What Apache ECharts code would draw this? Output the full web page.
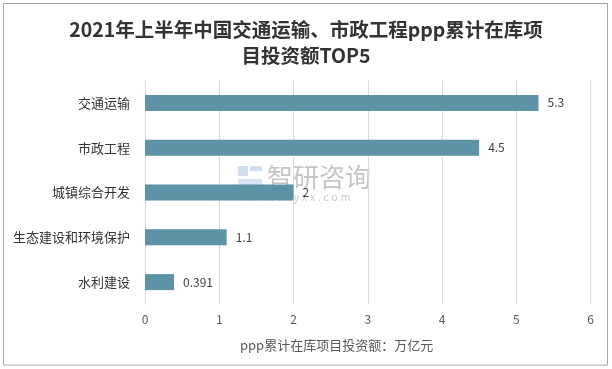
<!DOCTYPE html>
<html><head><meta charset="utf-8">
<script src="https://cdn.jsdelivr.net/npm/echarts@6/dist/echarts.min.js"></script>
<style>html,body{margin:0;padding:0;background:#fff}#c{width:612px;height:369px}</style>
</head><body><div id="c"></div>
<script>
var titleLines = ['2021年上半年中国交通运输、市政工程ppp累计在库项', '目投资额TOP5'];
var categories = ['交通运输', '市政工程', '城镇综合开发', '生态建设和环境保护', '水利建设'];
var values = [5.3, 4.5, 2, 1.1, 0.391];
var xTicks = [0, 1, 2, 3, 4, 5, 6];
var axisName = 'ppp累计在库项目投资额：万亿元';

var font = '"Noto Sans CJK SC", "Noto Sans", sans-serif';
var chart = echarts.init(document.getElementById('c'), null, {renderer: 'canvas'});
chart.setOption({
  animation: false,
  textStyle: {fontFamily: font},
  title: {
    text: titleLines.join('\n'),
    left: 'center', top: 12,
    textStyle: {fontFamily: font, fontSize: 19.5, fontWeight: 'bold', color: '#333', lineHeight: 26}
  },
  grid: {left: 145, right: 21.5, top: 80.5, bottom: 64.5, containLabel: false},
  xAxis: {
    type: 'value', min: xTicks[0], max: xTicks[xTicks.length - 1], interval: 1,
    axisLine: {show: false}, axisTick: {show: false},
    splitLine: {show: true, lineStyle: {color: '#d9d9d9', width: 1}},
    axisLabel: {color: '#595959', fontSize: 12, margin: 9, fontFamily: font}
  },
  yAxis: {
    type: 'category', data: categories, inverse: true,
    axisLine: {show: true, lineStyle: {color: '#d9d9d9'}},
    axisTick: {show: false},
    axisLabel: {color: '#333', fontSize: 13, margin: 15, fontFamily: font}
  },
  series: [{
    type: 'bar', data: values, barWidth: 16,
    itemStyle: {color: '#5e92a7'},
    label: {show: true, position: 'right', distance: 9, color: '#404040', fontSize: 12, fontFamily: font}
  }],
  graphic: [
    {type: 'rect', shape: {x: 3.5, y: 3.5, width: 604, height: 361.5}, style: {fill: 'none', stroke: '#a6a6a6', lineWidth: 1}, silent: true},
    {type: 'text', left: 240, top: 339, style: {text: axisName, fill: '#595959', font: '13px ' + font}},
    {type: 'group', z: 100, children: [
      {type: 'rect', shape: {x: 238, y: 166, width: 10, height: 10}, style: {fill: 'rgba(120,160,200,0.35)'}},
      {type: 'rect', shape: {x: 250, y: 166, width: 12, height: 5}, style: {fill: 'rgba(120,160,200,0.35)'}},
      {type: 'rect', shape: {x: 238, y: 179, width: 24, height: 11}, style: {fill: 'rgba(120,170,210,0.3)'}},
      {type: 'text', x: 267, y: 164, style: {text: '智研咨询', fill: 'rgba(150,150,150,0.55)', font: '26px ' + font}},
      {type: 'text', x: 237, y: 191, style: {text: 'w w w . c h y x x . c o m', fill: 'rgba(150,150,150,0.5)', font: '11px ' + font}}
    ]}
  ]
});
</script></body></html>
